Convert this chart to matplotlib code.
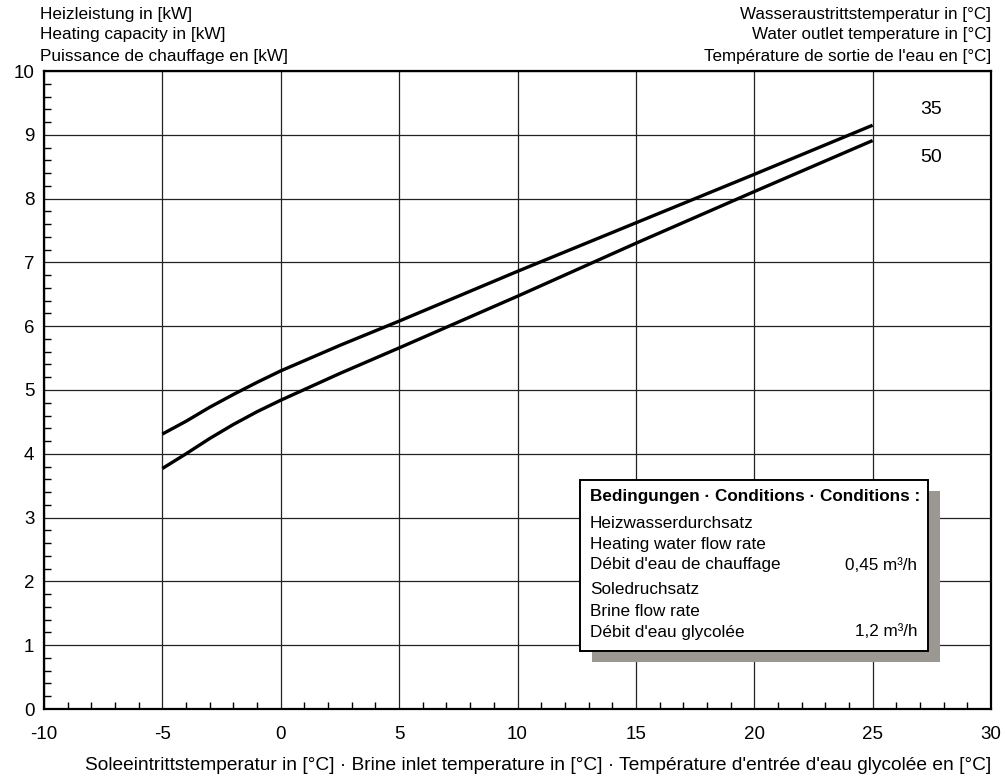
import matplotlib.pyplot as plt
from matplotlib.patches import Rectangle
from matplotlib.ticker import MultipleLocator

plt.rcParams['font.family'] = ['Liberation Sans', 'DejaVu Sans']
plt.rcParams['axes.unicode_minus'] = False

# Brine inlet temperature [°C]
brine_temp = [-5, -4, -3, -2, -1, 0, 2.5, 5, 10, 15, 20, 25]
# Heating capacity [kW] for water outlet 35 °C and 50 °C
cap_35 = [4.31, 4.51, 4.73, 4.93, 5.12, 5.30, 5.70, 6.08, 6.86, 7.62, 8.38, 9.15]
cap_50 = [3.77, 4.00, 4.24, 4.46, 4.66, 4.84, 5.26, 5.66, 6.47, 7.30, 8.11, 8.91]
curve_labels = ['35', '50']

header_left = ['Heizleistung in [kW]', 'Heating capacity in [kW]', 'Puissance de chauffage en [kW]']
header_right = ['Wasseraustrittstemperatur in [°C]', 'Water outlet temperature in [°C]',
                "Température de sortie de l'eau en [°C]"]
xlabel = ("Soleeintrittstemperatur in [°C] · Brine inlet temperature in [°C] · "
          "Température d'entrée d'eau glycolée en [°C]")

box_title = 'Bedingungen · Conditions · Conditions :'
box_lines_1 = ['Heizwasserdurchsatz', 'Heating water flow rate', "Débit d'eau de chauffage"]
box_value_1 = '0,45 m³/h'
box_lines_2 = ['Soledruchsatz', 'Brine flow rate', "Débit d'eau glycolée"]
box_value_2 = '1,2 m³/h'

W, H = 1005, 778
fig = plt.figure(figsize=(W / 100, H / 100), dpi=100)
ax = fig.add_axes([44 / W, 1 - 709 / H, (991 - 44) / W, (709 - 71) / H])

ax.plot(brine_temp, cap_35, color='black', lw=2.4, solid_capstyle='butt')
ax.plot(brine_temp, cap_50, color='black', lw=2.4, solid_capstyle='butt')
ax.text(27.47, 9.39, curve_labels[0], fontsize=14, ha='center', va='center')
ax.text(27.47, 8.65, curve_labels[1], fontsize=14, ha='center', va='center')

ax.set_xlim(-10, 30)
ax.set_ylim(0, 10)
ax.xaxis.set_major_locator(MultipleLocator(5))
ax.yaxis.set_major_locator(MultipleLocator(1))
ax.xaxis.set_minor_locator(MultipleLocator(1))
ax.yaxis.set_minor_locator(MultipleLocator(0.2))
ax.grid(True, which='major', color='#222222', lw=0.9)
ax.tick_params(which='major', length=0, labelsize=13.5, pad=12)
ax.tick_params(which='minor', direction='in', length=5, width=1, color='black')
ax.tick_params(axis='y', pad=7)
for s in ax.spines.values():
    s.set_linewidth(1.6)

# headers
for i, t in enumerate(header_left):
    fig.text(40 / W, 1 - (14 + 21 * i) / H, t, fontsize=12.4, ha='left', va='center')
for i, t in enumerate(header_right):
    fig.text(991 / W, 1 - (14 + 21 * i) / H, t, fontsize=12.25, ha='right', va='center')
fig.text(991 / W, 1 - 765 / H, xlabel, fontsize=13.8, ha='right', va='center')

# conditions box with shadow
bx0, bx1, by0, by1 = 580, 928, 480, 651
fig.patches.append(Rectangle(((bx0 + 12) / W, 1 - (by1 + 11) / H), (bx1 - bx0) / W, (by1 - by0) / H,
                             transform=fig.transFigure, facecolor='#9b9893', edgecolor='none', zorder=5))
fig.patches.append(Rectangle((bx0 / W, 1 - by1 / H), (bx1 - bx0) / W, (by1 - by0) / H,
                             transform=fig.transFigure, facecolor='white', edgecolor='black', lw=1.4, zorder=6))
tx, vx = 590, 917
fs = 12.3
fig.text(tx / W, 1 - 496 / H, box_title, fontsize=fs, fontweight='bold', ha='left', va='center', zorder=7)
for i, t in enumerate(box_lines_1):
    fig.text(tx / W, 1 - (523 + 21 * i) / H, t, fontsize=fs, ha='left', va='center', zorder=7)
fig.text(vx / W, 1 - 565 / H, box_value_1, fontsize=fs, ha='right', va='center', zorder=7)
for i, t in enumerate(box_lines_2):
    fig.text(tx / W, 1 - (590 + 21 * i) / H, t, fontsize=fs, ha='left', va='center', zorder=7)
fig.text(vx / W, 1 - 632 / H, box_value_2, fontsize=fs, ha='right', va='center', zorder=7)

fig.savefig('out.png', dpi=100)
